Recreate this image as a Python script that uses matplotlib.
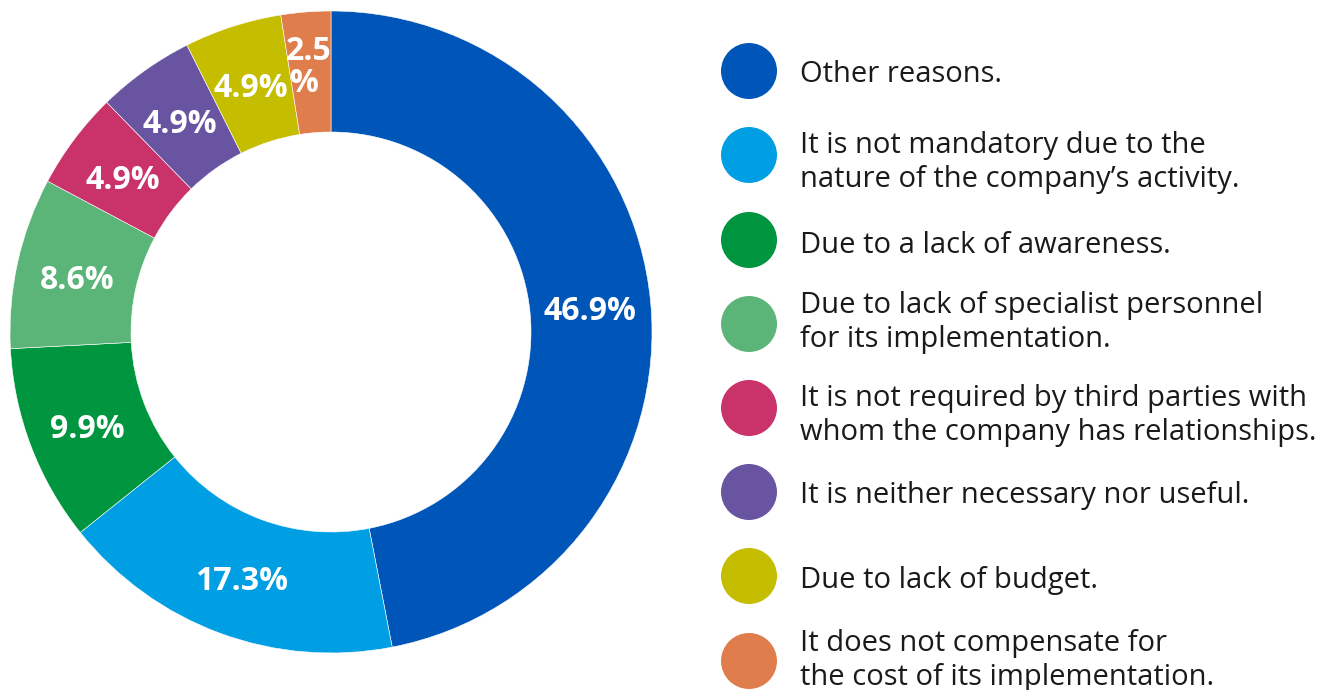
import matplotlib.pyplot as plt
import numpy as np

plt.rcParams['font.family'] = ['Open Sans', 'DejaVu Sans']

reasons = [
    'Other reasons.',
    'It is not mandatory due to the\nnature of the company\u2019s activity.',
    'Due to a lack of awareness.',
    'Due to lack of specialist personnel\nfor its implementation.',
    'It is not required by third parties with\nwhom the company has relationships.',
    'It is neither necessary nor useful.',
    'Due to lack of budget.',
    'It does not compensate for\nthe cost of its implementation.',
]
shares = [46.9, 17.3, 9.9, 8.6, 4.9, 4.9, 4.9, 2.5]
colors = ['#0056B8', '#009FE3', '#00963F', '#5BB578',
          '#C9336A', '#6954A1', '#C5BD00', '#E07D4C']

W, H = 1335, 690
fig = plt.figure(figsize=(W / 100, H / 100), dpi=100)
ax = fig.add_axes([0, 0, 1, 1])

cx, cy = 331, H - 332
r_out, r_in = 321, 200
wedges, _ = ax.pie(shares, colors=colors, startangle=90, counterclock=False,
                   center=(cx, cy), radius=r_out, frame=True,
                   wedgeprops=dict(width=r_out - r_in, edgecolor='white', linewidth=0.4))
ax.set_xlim(0, W)
ax.set_ylim(0, H)
ax.set_aspect('equal')
ax.axis('off')

# value labels in the middle of the ring
val_fs = 23
cap = 0.714 * val_fs * 100 / 72
r_mid = (r_out + r_in) / 2
for w, v in zip(wedges, shares):
    ang = np.deg2rad((w.theta1 + w.theta2) / 2)
    x = cx + r_mid * np.cos(ang)
    y = cy + r_mid * np.sin(ang)
    if v < 3:
        # narrow slice: split number and sign over two lines
        ax.text(x - 2, y + 12, f'{v:.1f}', ha='center', va='baseline', color='white',
                fontsize=val_fs, fontweight='bold')
        ax.text(x - 6, y - 20, '%', ha='center', va='baseline', color='white',
                fontsize=val_fs, fontweight='bold')
    else:
        ax.text(x, y - cap / 2 - 2, f'{v:.1f}%', ha='center', va='baseline',
                color='white', fontsize=val_fs, fontweight='bold')

# legend with round markers
dot_y = [71, 155, 240, 324, 408, 492, 576, 661]
text_y = [82, 153, 253, 313, 406, 503, 588, 651]
for dy, ty, c, lab in zip(dot_y, text_y, colors, reasons):
    ax.add_patch(plt.Circle((749, H - dy), 28, color=c, lw=0))
    for i, line in enumerate(lab.split('\n')):
        ax.text(800, H - ty - 34 * i, line, ha='left', va='baseline',
                fontsize=21, color='#1a1a1a')

fig.savefig('out.png', dpi=100)
